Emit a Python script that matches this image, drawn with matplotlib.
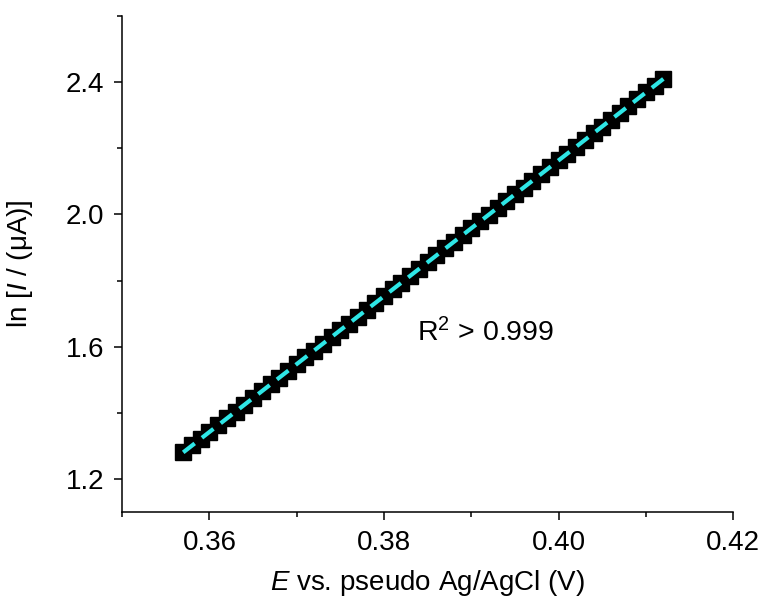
import numpy as np
import matplotlib
matplotlib.use('Agg')
import matplotlib.pyplot as plt
from matplotlib.ticker import MultipleLocator

plt.rcParams['font.family'] = ['Liberation Sans', 'DejaVu Sans']
plt.rcParams['mathtext.fontset'] = 'custom'
plt.rcParams['mathtext.rm'] = 'Liberation Sans'
plt.rcParams['mathtext.it'] = 'Liberation Sans:italic'

# potential (V) and ln current
potential = [0.357, 0.358, 0.359, 0.360, 0.361, 0.362, 0.363, 0.364, 0.365, 0.366,
             0.367, 0.368, 0.369, 0.370, 0.371, 0.372, 0.373, 0.374, 0.375, 0.376,
             0.377, 0.378, 0.379, 0.380, 0.381, 0.382, 0.383, 0.384, 0.385, 0.386,
             0.387, 0.388, 0.389, 0.390, 0.391, 0.392, 0.393, 0.394, 0.395, 0.396,
             0.397, 0.398, 0.399, 0.400, 0.401, 0.402, 0.403, 0.404, 0.405, 0.406,
             0.407, 0.408, 0.409, 0.410, 0.411, 0.412]
ln_current = [1.280, 1.301, 1.321, 1.342, 1.362, 1.383, 1.403, 1.424, 1.444, 1.465,
              1.486, 1.506, 1.527, 1.547, 1.568, 1.588, 1.609, 1.629, 1.650, 1.670,
              1.691, 1.712, 1.732, 1.753, 1.773, 1.794, 1.814, 1.835, 1.855, 1.876,
              1.897, 1.917, 1.938, 1.958, 1.979, 1.999, 2.020, 2.040, 2.061, 2.081,
              2.102, 2.123, 2.143, 2.164, 2.184, 2.205, 2.225, 2.246, 2.266, 2.287,
              2.308, 2.328, 2.349, 2.369, 2.390, 2.410]

x = np.array(potential)
y = np.array(ln_current)
slope, icpt = np.polyfit(x, y, 1)

fig = plt.figure(figsize=(7.63, 5.98), dpi=100)
ax = fig.add_axes([0.160, 0.144, 0.801, 0.829])

ax.plot(x, y, 's', color='black', markersize=12, zorder=2)
ax.plot(x, slope * x + icpt, '--', color='#2ee6e6', lw=3, dashes=(3.5, 2.2), zorder=3)

ax.set_xlim(0.35, 0.42)
ax.set_ylim(1.1, 2.6)
ax.xaxis.set_major_locator(MultipleLocator(0.02))
ax.xaxis.set_minor_locator(MultipleLocator(0.01))
ax.yaxis.set_major_locator(MultipleLocator(0.4))
ax.yaxis.set_minor_locator(MultipleLocator(0.2))
ax.set_yticks([1.2, 1.6, 2.0, 2.4])
ax.xaxis.set_major_formatter(matplotlib.ticker.FormatStrFormatter('%.2f'))
ax.yaxis.set_major_formatter(matplotlib.ticker.FormatStrFormatter('%.1f'))

for s in ['top', 'right']:
    ax.spines[s].set_visible(False)
for s in ['left', 'bottom']:
    ax.spines[s].set_linewidth(1.1)
ax.tick_params(which='major', direction='out', length=6, width=1.1, labelsize=20, pad=7)
ax.tick_params(which='minor', direction='out', length=3.5, width=1.1)

ax.set_xlabel('$\\it{E}$ vs. pseudo Ag/AgCl (V)', fontsize=20, labelpad=9)
ax.set_ylabel('ln [$\\it{I}$ / (\u03bcA)]', fontsize=20, labelpad=22)

ax.text(0.3838, 1.615, 'R$^{2}$ > 0.999', fontsize=20.5)

fig.savefig('out.png', dpi=100)
